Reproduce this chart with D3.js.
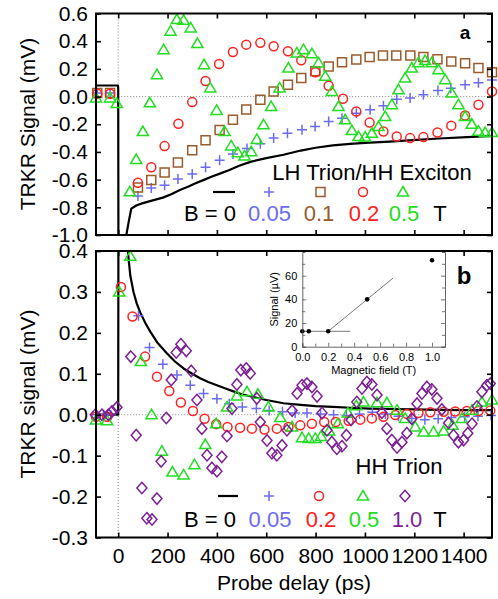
<!DOCTYPE html>
<html>
<head>
<meta charset="utf-8">
<script src="https://cdn.jsdelivr.net/npm/d3@7"></script>
<style>
  body { margin: 0; background: #fff; }
  svg { display: block; }
  text { font-family: "Liberation Sans", Arial, Helvetica, sans-serif; }
</style>
</head>
<body>
<svg id="chart" width="498" height="599"></svg>
<script>
// ---- tick values ----
const delayTicks = [0, 200, 400, 600, 800, 1000, 1200, 1400];
const topTicks = [-1.0, -0.8, -0.6, -0.4, -0.2, 0.0, 0.2, 0.4, 0.6];
const bottomTicks = [-0.3, -0.2, -0.1, 0.0, 0.1, 0.2, 0.3, 0.4];
const insetXTicks = [0.0, 0.2, 0.4, 0.6, 0.8, 1.0];
const insetYTicks = [0, 20, 40, 60];

// ---- panel a: LH trion / HH exciton, [delay ps, signal mV] ----
const aB0 = [[-90,0.08],[-1,0.08],[0,0.06],[1,-1.2],[30,-1.2],[33,-1.0],[43,-0.9],[53,-0.81],[75,-0.785],
  [100,-0.77],[140,-0.75],[181,-0.73],[215,-0.705],[250,-0.675],[285,-0.65],[316,-0.625],[350,-0.6],
  [380,-0.578],[415,-0.555],[451,-0.53],[490,-0.5],[539,-0.47],[600,-0.445],[670,-0.42],[740,-0.39],
  [800,-0.37],[870,-0.352],[940,-0.342],[1000,-0.335],[1100,-0.325],[1210,-0.313],[1300,-0.303],
  [1413,-0.293],[1515,-0.285]];
const aB005 = [[-85,0.025],[-33,0.025],[80,-0.719],[134,-0.66],[188,-0.64],[242,-0.595],[300,-0.559],
  [354,-0.511],[411,-0.46],[465,-0.414],[522,-0.375],[576,-0.34],[630,-0.30],[686,-0.265],[745,-0.24],
  [798,-0.217],[853,-0.18],[907,-0.156],[965,-0.12],[1021,-0.096],[1075,-0.067],[1129,-0.02],
  [1183,-0.01],[1237,0.013],[1296,0.044],[1348,0.06],[1406,0.085],[1460,0.10],[1515,0.12]];
const aB01 = [[-85,0.025],[-33,0.025],[80,-0.656],[134,-0.603],[188,-0.548],[242,-0.477],[300,-0.388],
  [354,-0.315],[411,-0.241],[465,-0.168],[519,-0.093],[576,-0.023],[630,0.037],[688,0.085],[742,0.134],
  [799,0.182],[853,0.218],[907,0.247],[965,0.267],[1019,0.286],[1073,0.296],[1127,0.297],[1184,0.296],
  [1237,0.286],[1294,0.27],[1350,0.254],[1406,0.24],[1460,0.206],[1515,0.175]];
const aB02 = [[-85,0.02],[-33,0.02],[80,-0.622],[134,-0.511],[188,-0.358],[244,-0.197],[300,-0.04],
  [354,0.112],[409,0.235],[465,0.322],[519,0.375],[576,0.388],[630,0.363],[688,0.327],[742,0.262],
  [799,0.175],[853,0.078],[911,-0.016],[965,-0.108],[1019,-0.188],[1075,-0.253],[1129,-0.289],
  [1183,-0.30],[1237,-0.293],[1294,-0.26],[1350,-0.21],[1406,-0.137],[1460,-0.059],[1515,0.037]];
const aB05 = [[-90,-0.01],[-33,-0.01],[-6,-0.05],[47,-0.688],[73,-0.455],[100,-0.253],[128,-0.045],
  [157,0.158],[184,0.339],[212,0.472],[238,0.556],[265,0.551],[294,0.496],[321,0.383],[348,0.23],
  [373,0.062],[399,-0.1],[431,-0.253],[458,-0.357],[485,-0.405],[512,-0.429],[539,-0.398],[562,-0.31],
  [589,-0.204],[620,-0.072],[654,0.062],[690,0.206],[724,0.315],[751,0.339],[785,0.31],[812,0.243],
  [839,0.146],[866,0.037],[893,-0.072],[920,-0.168],[947,-0.246],[974,-0.289],[1001,-0.293],
  [1028,-0.265],[1055,-0.217],[1082,-0.144],[1109,-0.059],[1136,0.049],[1163,0.134],[1190,0.206],
  [1217,0.245],[1244,0.26],[1271,0.245],[1298,0.194],[1325,0.122],[1352,0.025],[1379,-0.059],
  [1406,-0.144],[1433,-0.2],[1460,-0.25],[1487,-0.26],[1515,-0.26]];

// ---- panel b: HH trion ----
const bB0 = [[-90,0.0],[0,0.0],[1,0.5],[37,0.5],[39,0.40],[44,0.37],[49,0.34],[62,0.30],[75,0.272],
  [89,0.25],[110,0.224],[130,0.203],[160,0.175],[197,0.15],[230,0.13],[265,0.113],[300,0.1],[332,0.089],
  [365,0.08],[400,0.072],[435,0.064],[467,0.057],[500,0.05],[535,0.045],[600,0.036],[670,0.028],
  [740,0.024],[800,0.021],[870,0.019],[940,0.017],[1020,0.015],[1100,0.014],[1200,0.013],[1300,0.012],
  [1400,0.011],[1515,0.011]];
const bB005 = [[-90,0.0],[-60,0.0],[-30,0.0],[82,0.242],[127,0.164],[181,0.123],[238,0.097],[292,0.072],
  [346,0.052],[400,0.039],[450,0.027],[503,0.019],[560,0.015],[612,0.01],[666,0.007],[717,0.004],
  [765,0.004],[820,0.002],[873,0.0],[925,-0.002],[978,0.002],[1030,0.006],[1083,0.002],[1136,-0.004],
  [1190,-0.009],[1243,-0.012],[1297,-0.01],[1350,-0.007],[1404,-0.005],[1458,-0.004],[1511,-0.002]];
const bB02 = [[-90,-0.005],[-45,-0.005],[11,0.312],[58,0.24],[109,0.142],[157,0.093],[207,0.058],
  [254,0.03],[303,0.009],[350,-0.01],[397,-0.023],[443,-0.03],[494,-0.032],[542,-0.034],[593,-0.036],
  [643,-0.034],[690,-0.03],[738,-0.026],[785,-0.022],[835,-0.018],[882,-0.018],[934,-0.015],
  [981,-0.012],[1028,-0.009],[1075,-0.005],[1123,-0.001],[1170,0.002],[1217,0.004],[1265,0.006],
  [1319,0.007],[1366,0.008],[1413,0.009],[1460,0.009],[1508,0.01]];
const bB05 = [[-90,-0.013],[-45,-0.015],[4,0.30],[49,0.387],[92,0.13],[135,0.0],[177,-0.089],
  [220,-0.14],[265,-0.147],[309,-0.122],[353,-0.073],[397,-0.022],[441,0.019],[481,0.046],[522,0.056],
  [566,0.05],[609,0.019],[657,-0.007],[704,-0.03],[745,-0.056],[772,-0.058],[799,-0.058],[822,-0.053],
  [855,-0.04],[890,-0.022],[931,0.004],[965,0.022],[994,0.031],[1049,0.029],[1089,0.029],[1130,0.011],
  [1163,-0.009],[1204,-0.03],[1238,-0.042],[1278,-0.042],[1319,-0.04],[1355,-0.026],[1393,-0.009],
  [1434,0.011],[1474,0.031],[1515,0.036]];
const bB10 = [[-93,0.0],[-66,0.0],[-40,0.0],[-25,0.008],[-5,0.018],[51,0.142],[73,-0.05],[96,-0.179],
  [116,-0.253],[137,-0.256],[157,-0.205],[174,-0.114],[195,-0.008],[215,0.085],[235,0.152],[254,0.172],
  [276,0.156],[296,0.107],[319,0.036],[339,-0.034],[360,-0.099],[380,-0.13],[400,-0.138],[420,-0.103],
  [441,-0.052],[461,0.015],[481,0.074],[497,0.109],[519,0.113],[535,0.101],[562,0.04],[576,-0.018],
  [603,-0.063],[623,-0.094],[643,-0.099],[664,-0.075],[684,-0.038],[705,0.01],[725,0.052],[745,0.072],
  [765,0.076],[785,0.068],[806,0.045],[826,0.004],[846,-0.038],[866,-0.067],[886,-0.083],[907,-0.077],
  [925,-0.05],[944,-0.013],[967,0.031],[988,0.064],[1008,0.08],[1028,0.074],[1049,0.048],[1069,0.005],
  [1089,-0.034],[1109,-0.062],[1130,-0.08],[1150,-0.067],[1170,-0.045],[1190,-0.01],[1211,0.027],
  [1231,0.052],[1251,0.068],[1271,0.062],[1292,0.04],[1312,0.013],[1339,-0.02],[1359,-0.05],
  [1379,-0.067],[1400,-0.062],[1417,-0.045],[1434,-0.022],[1454,0.02],[1474,0.056],[1494,0.072],
  [1508,0.076]];

// ---- inset: trion signal amplitude vs magnetic field ----
const insetField = [0.0, 0.05, 0.2, 0.5, 1.0];
const insetSignal = [13, 13, 13, 40, 73];
const insetFlatFit = [[0.0, 13], [0.37, 13]];
const insetSlopeFit = [[0.2, 13], [0.7, 58]];

// ---- legend entries ----
const topLegendLabels = ["B = 0", "0.05", "0.1", "0.2", "0.5", "T"];
const bottomLegendLabels = ["B = 0", "0.05", "0.2", "0.5", "1.0", "T"];

const COL = { b0: "#000", b005: "#6b6bf2", b01: "#9a5a2b", b02: "#ff2020", b05: "#22dd22", b10: "#7d1f94" };

const svg = d3.select("#chart");
const x = d3.scaleLinear().domain([-90, 1515]).range([96, 492]);
const yA = d3.scaleLinear().domain([-1.0, 0.6]).range([235, 13.5]);
const yB = d3.scaleLinear().domain([-0.3, 0.4]).range([537.5, 251]);

const SHAPES = {
  plus: "M-5,0H5M0,-5V5",
  square: "M-4.5,-4.5H4.5V4.5H-4.5Z",
  circle: "M4.5,0A4.5,4.5 0 1,1 -4.5,0A4.5,4.5 0 1,1 4.5,0Z",
  triangle: "M0,-5.5L5.6,4L-5.6,4Z",
  diamond: "M0,-5.7L5,0L0,5.7L-5,0Z"
};

function marker(g, shape, color, px, py) {
  g.append("path").attr("d", SHAPES[shape])
    .attr("transform", `translate(${px},${py})`)
    .attr("fill", "none").attr("stroke", color).attr("stroke-width", 1.5);
}

function panel(id, y, y0, y1, ticks, lineData, series, showXLabels) {
  const g = svg.append("g");
  const clipId = "clip-" + id;
  svg.append("clipPath").attr("id", clipId).append("rect")
    .attr("x", 96).attr("y", y1).attr("width", 396).attr("height", y0 - y1);

  // zero guides
  g.append("line").attr("x1", x(0)).attr("x2", 492).attr("y1", y(0)).attr("y2", y(0))
    .attr("stroke", "#777").attr("stroke-width", 0.9).attr("stroke-dasharray", "1,2");
  g.append("line").attr("x1", x(0)).attr("x2", x(0)).attr("y1", y1).attr("y2", y0)
    .attr("stroke", "#777").attr("stroke-width", 0.9).attr("stroke-dasharray", "1,2");

  // B = 0 trace
  g.append("path").datum(lineData).attr("clip-path", `url(#${clipId})`)
    .attr("d", d3.line().x(d => x(d[0])).y(d => y(d[1])))
    .attr("fill", "none").attr("stroke", "#000").attr("stroke-width", 2.2).attr("stroke-linejoin", "round");

  // field series markers
  series.forEach(s => {
    const sg = g.append("g");
    s.data.forEach(d => marker(sg, s.shape, s.color, x(d[0]), y(d[1])));
  });

  // axes with inward ticks
  const fmt = d => d.toFixed(1);
  const left = g.append("g").attr("transform", "translate(96,0)")
    .call(d3.axisLeft(y).tickValues(ticks).tickSize(-5).tickPadding(8).tickFormat(fmt));
  const right = g.append("g").attr("transform", "translate(492,0)")
    .call(d3.axisRight(y).tickValues(ticks).tickSize(-5).tickFormat(""));
  const top = g.append("g").attr("transform", `translate(0,${y1})`)
    .call(d3.axisTop(x).tickValues(delayTicks).tickSize(-5).tickFormat(""));
  const bottom = g.append("g").attr("transform", `translate(0,${y0})`)
    .call(d3.axisBottom(x).tickValues(delayTicks).tickSize(-5).tickPadding(11)
      .tickFormat(showXLabels ? (d => String(d)) : ""));
  [left, right, top, bottom].forEach(a => {
    a.select(".domain").remove();
    a.selectAll(".tick line").attr("stroke", "#000").attr("stroke-width", 1.6);
    a.selectAll("text").attr("font-size", 21).attr("fill", "#000")
      .style("font-family", '"Liberation Sans", Arial, Helvetica, sans-serif');
    a.attr("font-family", null).attr("font-size", null);
  });

  // frame
  g.append("rect").attr("x", 96).attr("y", y1).attr("width", 396).attr("height", y0 - y1)
    .attr("fill", "none").attr("stroke", "#000").attr("stroke-width", 2);
  return g;
}

const gA = panel("a", yA, 235, 13.5, topTicks, aB0, [
  { data: aB005, shape: "plus", color: COL.b005 },
  { data: aB01, shape: "square", color: COL.b01 },
  { data: aB02, shape: "circle", color: COL.b02 },
  { data: aB05, shape: "triangle", color: COL.b05 }
], false);

const gB = panel("b", yB, 537.5, 251, bottomTicks, bB0, [
  { data: bB005, shape: "plus", color: COL.b005 },
  { data: bB02, shape: "circle", color: COL.b02 },
  { data: bB05, shape: "triangle", color: COL.b05 },
  { data: bB10, shape: "diamond", color: COL.b10 }
], true);

// axis titles
svg.append("text").attr("transform", "translate(34.5,124) rotate(-90)")
  .attr("text-anchor", "middle").attr("font-size", 21).text("TRKR Signal (mV)");
svg.append("text").attr("transform", "translate(34.5,394) rotate(-90)")
  .attr("text-anchor", "middle").attr("font-size", 21).text("TRKR signal (mV)");
svg.append("text").attr("x", 294).attr("y", 590)
  .attr("text-anchor", "middle").attr("font-size", 21).text("Probe delay (ps)");

// panel letters and titles
svg.append("text").attr("x", 465).attr("y", 38.5).attr("text-anchor", "middle")
  .attr("font-size", 19).attr("font-weight", "bold").text("a");
svg.append("text").attr("x", 464).attr("y", 283.5).attr("text-anchor", "middle")
  .attr("font-size", 24).attr("font-weight", "bold").text("b");
svg.append("text").attr("x", 372).attr("y", 180).attr("text-anchor", "middle")
  .attr("font-size", 22).text("LH Trion/HH Exciton");
svg.append("text").attr("x", 399).attr("y", 473.5).attr("text-anchor", "middle")
  .attr("font-size", 22).text("HH Trion");

// legends
function legend(labels, colors, shapes, symX, labX, symY, labY, lineX) {
  const lg = svg.append("g");
  lg.append("line").attr("x1", lineX[0]).attr("x2", lineX[1]).attr("y1", symY).attr("y2", symY)
    .attr("stroke", "#000").attr("stroke-width", 2.2);
  shapes.forEach((s, i) => marker(lg, s, colors[i + 1], symX[i], symY));
  labels.forEach((t, i) => {
    lg.append("text").attr("x", labX[i]).attr("y", labY).attr("text-anchor", "middle")
      .attr("font-size", 22).attr("fill", colors[i]).text(t);
  });
}
legend(topLegendLabels, ["#000", COL.b005, COL.b01, COL.b02, COL.b05, "#000"],
  ["plus", "square", "circle", "triangle"], [269, 320.5, 363, 403],
  [210, 269.5, 319, 364, 404, 440], 192, 221, [213, 235]);
legend(bottomLegendLabels, ["#000", COL.b005, COL.b02, COL.b05, COL.b10, "#000"],
  ["plus", "circle", "triangle", "diamond"], [269, 319, 363, 405],
  [210, 270, 321, 364, 407, 440], 496, 527, [218, 238]);

// inset
const ix = d3.scaleLinear().domain([0, 1.1]).range([302.3, 445]);
const iy = d3.scaleLinear().domain([0, 80]).range([346.7, 252]);
const ins = svg.append("g");
ins.append("rect").attr("x", 302.3).attr("y", 252).attr("width", 445 - 302.3).attr("height", 346.7 - 252)
  .attr("fill", "#fff").attr("stroke", "none");
const iline = d3.line().x(d => ix(d[0])).y(d => iy(d[1]));
[insetFlatFit, insetSlopeFit].forEach(f => ins.append("path").datum(f).attr("d", iline)
  .attr("fill", "none").attr("stroke", "#555").attr("stroke-width", 0.8));
insetField.forEach((f, i) => ins.append("circle").attr("cx", ix(f)).attr("cy", iy(insetSignal[i]))
  .attr("r", 2.3).attr("fill", "#000"));
const iL = ins.append("g").attr("transform", "translate(302.3,0)")
  .call(d3.axisLeft(iy).tickValues(d3.range(0, 80, 10)).tickSize(-3).tickPadding(5)
    .tickFormat(d => insetYTicks.includes(d) ? String(d) : ""));
const iR = ins.append("g").attr("transform", "translate(445,0)")
  .call(d3.axisRight(iy).tickValues(d3.range(0, 80, 10)).tickSize(-3).tickFormat(""));
const iBt = ins.append("g").attr("transform", "translate(0,346.7)")
  .call(d3.axisBottom(ix).tickValues(d3.range(0, 11).map(d => d / 10)).tickSize(-3).tickPadding(7)
    .tickFormat(d => insetXTicks.some(t => Math.abs(t - d) < 1e-9) ? d.toFixed(1) : ""));
[iL, iR, iBt].forEach(a => {
  a.select(".domain").attr("stroke", "#555").attr("stroke-width", 0.9);
  a.selectAll(".tick line").attr("stroke", "#555").attr("stroke-width", 0.8);
  a.selectAll("text").attr("font-size", 11).attr("fill", "#000")
    .style("font-family", '"Liberation Sans", Arial, Helvetica, sans-serif');
  a.attr("font-family", null).attr("font-size", null);
});
iL.selectAll(".tick").filter(d => insetYTicks.includes(d)).select("line").attr("x2", 4);
iR.selectAll(".tick").filter(d => insetYTicks.includes(d)).select("line").attr("x2", -4);
iBt.selectAll(".tick").filter(d => insetXTicks.some(t => Math.abs(t - d) < 1e-9)).select("line").attr("y2", -4);
ins.append("text").attr("x", 373.7).attr("y", 374).attr("text-anchor", "middle")
  .attr("font-size", 11).text("Magnetic field (T)");
ins.append("text").attr("transform", "translate(278,299.3) rotate(-90)").attr("text-anchor", "middle")
  .attr("font-size", 11).text("Signal (\u00b5V)");
</script>
</body>
</html>
